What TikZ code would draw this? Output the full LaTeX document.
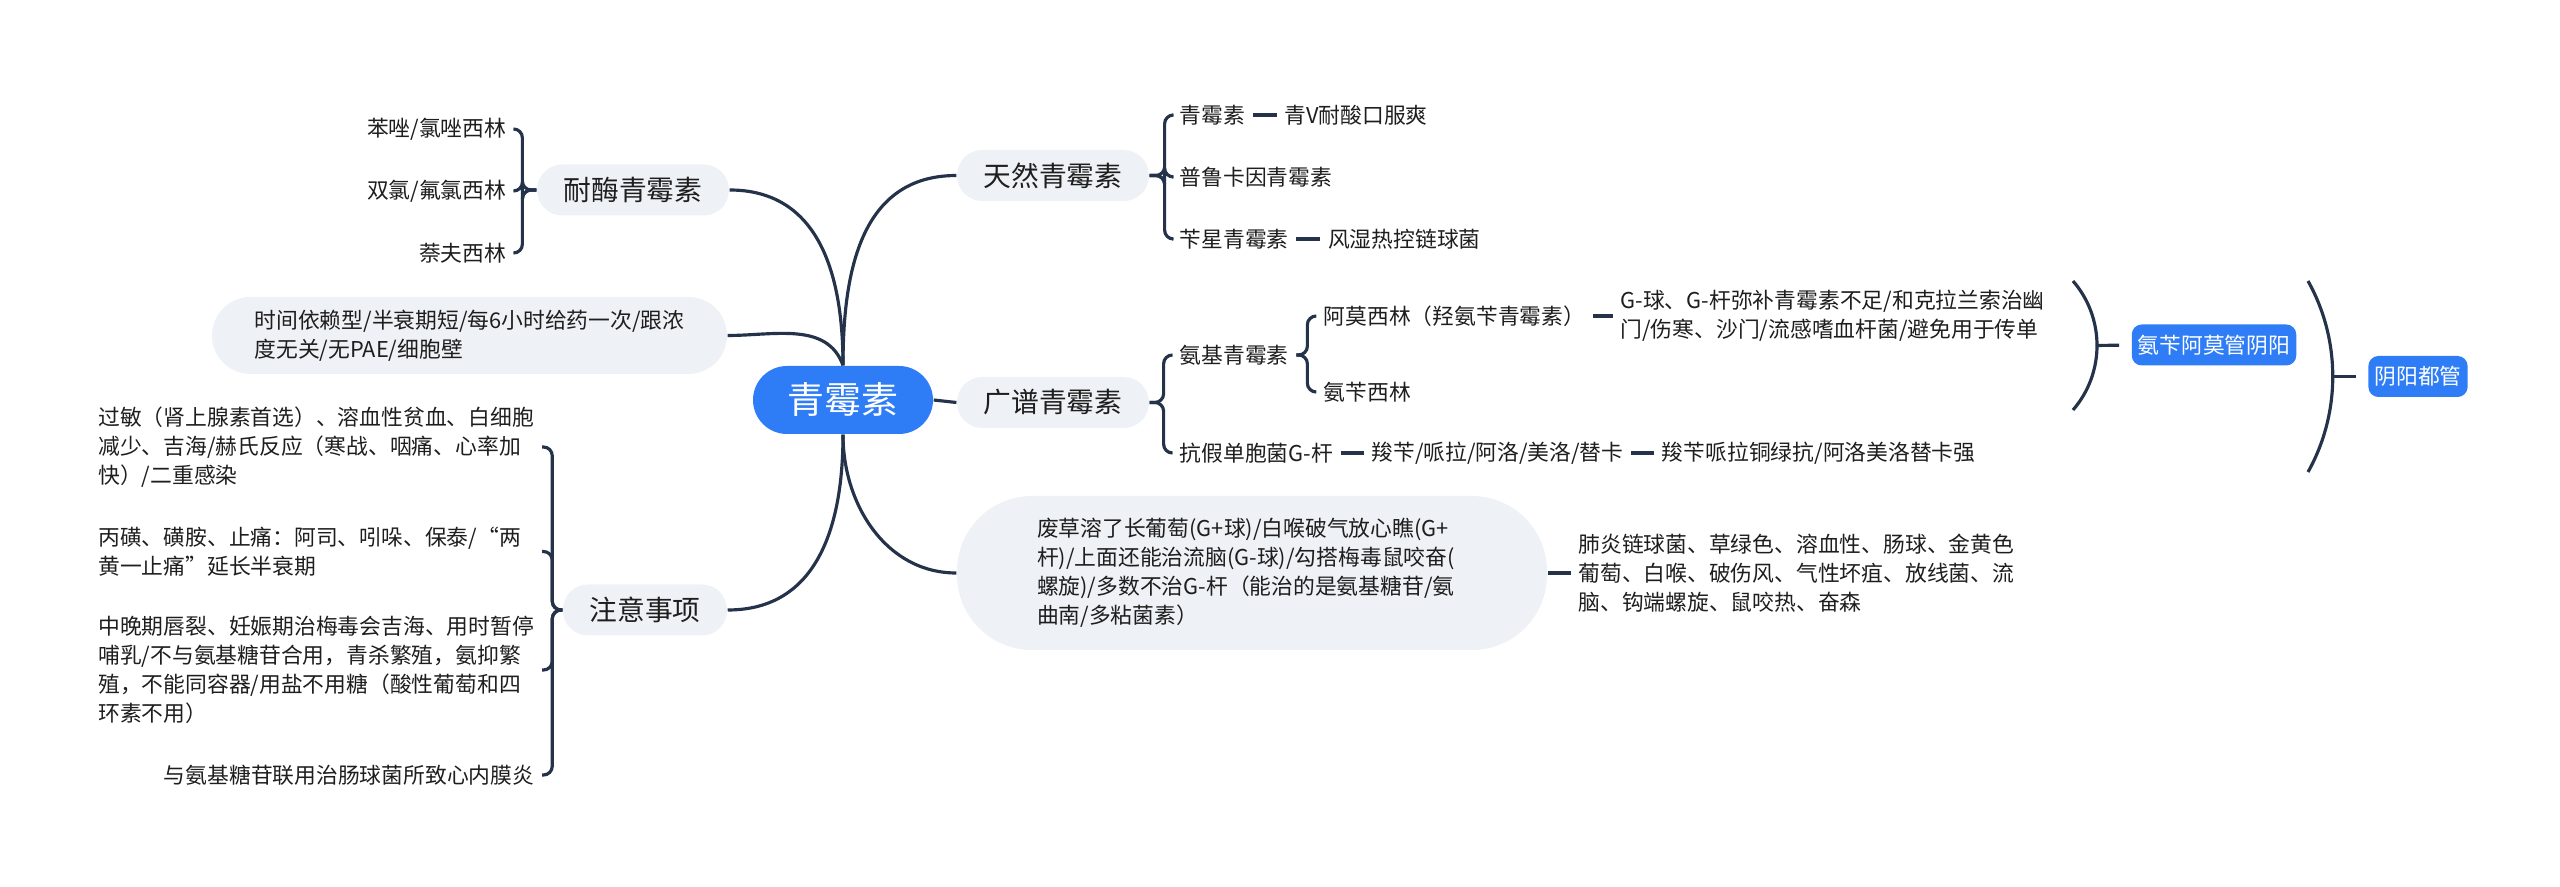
\documentclass[tikz,border=0pt]{standalone}
\usepackage{fontspec}
\setmainfont{Noto Sans CJK SC}
\usetikzlibrary{positioning}
\definecolor{mapblue}{HTML}{2F7DF6}
\definecolor{mapgray}{HTML}{EEF1F5}
\definecolor{mapline}{HTML}{24324A}
\definecolor{maptext}{HTML}{1E1E1E}
\begin{document}
\begin{tikzpicture}[
  link/.style={draw=mapline, line width=0.9pt},
  brace/.style={link, rounded corners=2.5pt},
  rootbox/.style={fill=mapblue, text=white, rounded corners=0.34cm, minimum width=1.8cm, minimum height=0.68cm, inner sep=0pt, font=\fontsize{10.5}{12}\selectfont},
  topic/.style={fill=mapgray, text=maptext, rounded corners=0.25cm, minimum height=0.51cm, inner xsep=0.265cm, inner ysep=0pt, font=\fontsize{7.9}{9.5}\selectfont},
  leaf/.style={text=maptext, inner xsep=0.07cm, inner ysep=0.03cm, align=left, font=\fontsize{6.2}{8.25}\selectfont},
  note/.style={leaf, text width=4.36cm, anchor=east},
  sumbox/.style={fill=mapblue, text=white, rounded corners=0.1cm, minimum height=0.41cm, inner xsep=0.06cm, inner ysep=0pt, font=\fontsize{6.2}{7.5}\selectfont},
]
\useasboundingbox (0,0) rectangle (25.6,-8.87);

\node[rootbox] (root) at (8.43,-4.00) {青霉素};

% left side
\node[topic] (naimei) at (6.33,-1.90) {耐酶青霉素};
\node[leaf, anchor=east] (benzuo) at (5.14,-1.29) {苯唑/氯唑西林};
\node[leaf, anchor=east] (shuanglv) at (5.14,-1.91) {双氯/氟氯西林};
\node[leaf, anchor=east] (naifu) at (5.14,-2.53) {萘夫西林};

\node[topic, leaf, fill=mapgray, rounded corners=0.385cm, minimum width=5.15cm, minimum height=0.77cm] (shijian) at (4.695,-3.355)
  {时间依赖型/半衰期短/每6小时给药一次/跟浓\\度无关/无PAE/细胞壁};

\node[topic] (zhuyi) at (6.45,-6.10) {注意事项};
\node[note] (guomin) at (5.42,-4.47)
  {过敏（肾上腺素首选）、溶血性贫血、白细胞\\减少、吉海/赫氏反应（寒战、咽痛、心率加\\快）/二重感染};
\node[note] (bingsulfone) at (5.42,-5.515)
  {丙磺、磺胺、止痛：阿司、吲哚、保泰/{\addfontfeature{RawFeature=+fwid}“}两\\黄一止痛{\addfontfeature{RawFeature=+fwid}”}延长半衰期};
\node[note] (zhongwan) at (5.42,-6.70)
  {中晚期唇裂、妊娠期治梅毒会吉海、用时暂停\\哺乳/不与氨基糖苷合用，青杀繁殖，氨抑繁\\殖，不能同容器/用盐不用糖（酸性葡萄和四\\环素不用）};
\node[leaf, anchor=east] (yuji) at (5.42,-7.75) {与氨基糖苷联用治肠球菌所致心内膜炎};

% right side
\node[topic] (tianran) at (10.53,-1.755) {天然青霉素};
\node[leaf, anchor=west] (qingmei) at (11.72,-1.15) {青霉素};
\node[leaf, right=0.24 of qingmei] (qingV) {青V耐酸口服爽};
\node[leaf, anchor=west] (puluka) at (11.72,-1.77) {普鲁卡因青霉素};
\node[leaf, anchor=west] (bianxing) at (11.72,-2.39) {苄星青霉素};
\node[leaf, right=0.24 of bianxing] (fengshi) {风湿热控链球菌};

\node[topic] (guangpu) at (10.53,-4.025) {广谱青霉素};
\node[leaf, anchor=west] (anji) at (11.72,-3.55) {氨基青霉素};
\node[leaf, anchor=west] (amoxi) at (13.16,-3.16) {阿莫西林（羟氨苄青霉素）};
\node[leaf, right=0.2 of amoxi] (gqiu) {G-球、G-杆弥补青霉素不足/和克拉兰索治幽\\门/伤寒、沙门/流感嗜血杆菌/避免用于传单};
\node[leaf, anchor=west] (anbian) at (13.16,-3.92) {氨苄西林};
\node[leaf, anchor=west] (kangjia) at (11.72,-4.53) {抗假单胞菌G-杆};
\node[leaf, right=0.23 of kangjia] (suoben) {羧苄/哌拉/阿洛/美洛/替卡};
\node[leaf, right=0.23 of suoben] (suoben2) {羧苄哌拉铜绿抗/阿洛美洛替卡强};

\node[topic, leaf, fill=mapgray, rounded corners=0.75cm, minimum width=5.90cm, minimum height=1.54cm] (feicao) at (12.52,-5.73)
  {\raisebox{0.08cm}{\parbox{4.3cm}{废草溶了长葡萄(G+球)/白喉破气放心瞧(G+\\杆)/上面还能治流脑(G-球)/勾搭梅毒鼠咬奋(\\螺旋)/多数不治G-杆（能治的是氨基糖苷/氨\\曲南/多粘菌素）}}};
\node[leaf, right=0.23 of feicao] (feiyan)
  {肺炎链球菌、草绿色、溶血性、肠球、金黄色\\葡萄、白喉、破伤风、气性坏疽、放线菌、流\\脑、钩端螺旋、鼠咬热、奋森};

% summaries
\node[sumbox] (anbianamo) at (22.14,-3.45) {氨苄阿莫管阴阳};
\node[sumbox] (yinyang) at (24.18,-3.765) {阴阳都管};
\coordinate (sumAtop) at (20.73,-2.81);
\coordinate (sumAmid) at (20.97,-3.455);
\coordinate (sumAbot) at (20.73,-4.10);
\coordinate (sumBtop) at (23.08,-2.81);
\coordinate (sumBmid) at (23.33,-3.765);
\coordinate (sumBbot) at (23.08,-4.72);

% links from the root
\draw[link] (root.north) to[out=90,in=0,looseness=1.1] (naimei.east);
\draw[link] (root.north) to[out=90,in=180,looseness=1.1] (tianran.west);
\draw[link] (root.north) to[out=110,in=0] (shijian.east);
\draw[link] (root.east) -- (guangpu.west);
\draw[link] (root.south) to[out=-90,in=0,looseness=1.1] (zhuyi.east);
\draw[link] (root.south) to[out=-90,in=180] (feicao.west);

% braces
\foreach \k in {benzuo,shuanglv,naifu}
  \draw[brace] (naimei.west) -- ++(-0.14,0) |- (\k.east);
\foreach \k in {guomin,bingsulfone,zhongwan,yuji}
  \draw[brace] (zhuyi.west) -- ++(-0.10,0) |- (\k.east);
\foreach \k in {qingmei,puluka,bianxing}
  \draw[brace] (tianran.east) -- ++(0.15,0) |- (\k.west);
\foreach \k in {anji,kangjia}
  \draw[brace] (guangpu.east) -- ++(0.14,0) |- (\k.west);
\foreach \k in {amoxi,anbian}
  \draw[brace] (anji.east) -- ++(0.11,0) |- (\k.west);

\draw[link] (qingmei.east) -- (qingV.west);
\draw[link] (bianxing.east) -- (fengshi.west);
\draw[link] (amoxi.east) -- (gqiu.west);
\draw[link] (kangjia.east) -- (suoben.west);
\draw[link] (suoben.east) -- (suoben2.west);
\draw[link] (feicao.east) -- (feiyan.west);

\draw[link] (sumAtop) .. controls (21.05,-3.18) and (21.05,-3.73) .. (sumAbot);
\draw[link, shorten >=0.12cm] (sumAmid) -- (anbianamo.west);
\draw[link] (sumBtop) .. controls (23.41,-3.40) and (23.41,-4.13) .. (sumBbot);
\draw[link, shorten >=0.12cm] (sumBmid) -- (yinyang.west);
\end{tikzpicture}
\end{document}
